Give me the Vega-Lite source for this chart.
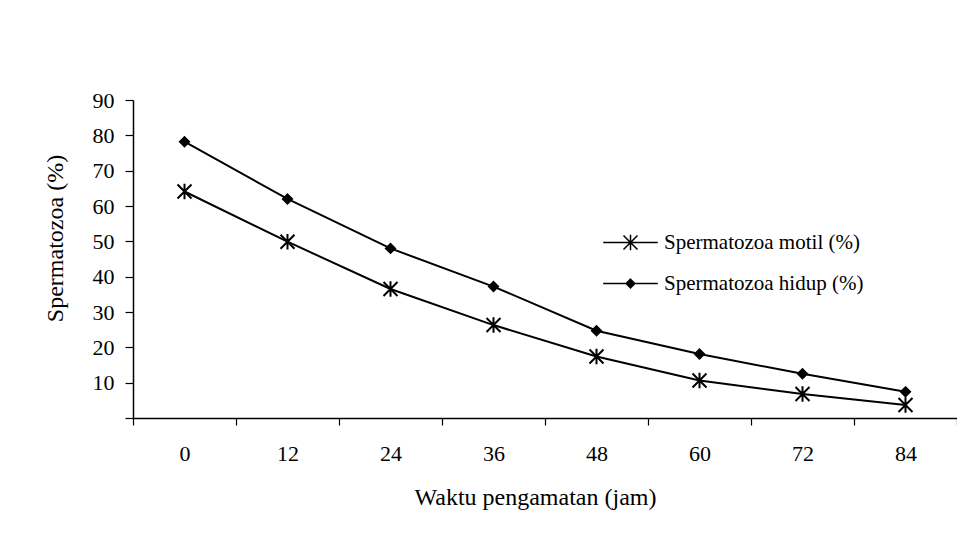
{
  "$schema": "https://vega.github.io/schema/vega-lite/v6.json",
  "width": 824,
  "height": 318,
  "autosize": {"type": "none"},
  "padding": {"left": 133, "top": 100, "right": 0, "bottom": 123},
  "background": "white",
  "config": {
    "view": {"stroke": null},
    "font": "Liberation Serif",
    "axis": {"labelFont": "Liberation Serif", "titleFont": "Liberation Serif", "labelColor": "black", "titleColor": "black", "domainColor": "black", "tickColor": "black", "titleFontWeight": "normal", "grid": false}
  },
  "data": {
    "values": [
      {"t": 0, "series": "Spermatozoa motil (%)", "v": 64.1},
      {"t": 12, "series": "Spermatozoa motil (%)", "v": 49.9},
      {"t": 24, "series": "Spermatozoa motil (%)", "v": 36.5},
      {"t": 36, "series": "Spermatozoa motil (%)", "v": 26.3},
      {"t": 48, "series": "Spermatozoa motil (%)", "v": 17.4},
      {"t": 60, "series": "Spermatozoa motil (%)", "v": 10.6},
      {"t": 72, "series": "Spermatozoa motil (%)", "v": 6.8},
      {"t": 84, "series": "Spermatozoa motil (%)", "v": 3.7},
      {"t": 0, "series": "Spermatozoa  hidup (%)", "v": 78.2},
      {"t": 12, "series": "Spermatozoa  hidup (%)", "v": 62.0},
      {"t": 24, "series": "Spermatozoa  hidup (%)", "v": 48.0},
      {"t": 36, "series": "Spermatozoa  hidup (%)", "v": 37.2},
      {"t": 48, "series": "Spermatozoa  hidup (%)", "v": 24.7},
      {"t": 60, "series": "Spermatozoa  hidup (%)", "v": 18.1},
      {"t": 72, "series": "Spermatozoa  hidup (%)", "v": 12.5},
      {"t": 84, "series": "Spermatozoa  hidup (%)", "v": 7.4}
    ]
  },
  "encoding": {
    "x": {
      "field": "t", "type": "ordinal",
      "scale": {"paddingInner": 0, "paddingOuter": 0},
      "axis": {
        "title": "Waktu pengamatan (jam)", "labelAngle": 0, "tickBand": "extent",
        "tickSize": 7, "labelFontSize": 22, "labelPadding": 18, "domainWidth": 1.5, "tickWidth": 1.2,
        "titleFontSize": 24, "titleX": 402, "titleY": 79, "titleBaseline": "middle", "titleAnchor": "start", "titleAlign": "center"
      }
    },
    "y": {
      "field": "v", "type": "quantitative",
      "scale": {"domain": [0, 90], "nice": false},
      "axis": {
        "title": "Spermatozoa (%)", "values": [0, 10, 20, 30, 40, 50, 60, 70, 80, 90],
        "labelExpr": "datum.value == 0 ? '' : datum.label",
        "tickSize": 8, "labelFontSize": 22, "labelPadding": 11, "domainWidth": 1.5, "tickWidth": 1.2,
        "titleFontSize": 24, "titleX": -78, "titleY": 138, "titleAngle": -90, "titleBaseline": "middle", "titleAlign": "center", "titleAnchor": "start"
      }
    }
  },
  "layer": [
    {
      "mark": {"type": "line", "color": "black", "strokeWidth": 2},
      "encoding": {"detail": {"field": "series"}}
    },
    {
      "mark": {"type": "point", "filled": true, "fill": "black", "stroke": "black", "strokeWidth": 2, "opacity": 1, "size": 196},
      "encoding": {
        "shape": {
          "field": "series", "type": "nominal",
          "scale": {"domain": ["Spermatozoa motil (%)", "Spermatozoa  hidup (%)"], "range": ["M-1,-1L1,1M-1,1L1,-1M0,-1.1L0,1.1", "M0,-0.65L0.65,0L0,0.65L-0.65,0Z"]},
          "legend": null
        }
      }
    },
    {
      "transform": [{"filter": "datum.v < -1"}],
      "mark": {"type": "point", "filled": false, "color": "black", "strokeWidth": 1.5, "size": 196},
      "encoding": {
        "shape": {
          "field": "series", "type": "nominal",
          "scale": {"domain": ["Spermatozoa motil (%)", "Spermatozoa  hidup (%)"], "range": ["M-3.9,0L3.9,0M-1,-1L1,1M-1,1L1,-1M0,-1.1L0,1.1", "M-3.9,0L3.9,0M0,-0.62L0.62,0L0,0.62L-0.62,0ZM0,-0.42L0.42,0L0,0.42L-0.42,0ZM0,-0.22L0.22,0L0,0.22L-0.22,0ZM0,-0.6L0,0.6"]},
          "legend": {
            "title": null, "orient": "none", "legendX": 487, "legendY": 132,
            "symbolOpacity": 1, "symbolStrokeColor": "black", "symbolStrokeWidth": 1.5, "symbolSize": 196,
            "labelFont": "Liberation Serif", "labelFontSize": 21, "labelColor": "black", "labelOffset": 23, "rowPadding": 18, "labelLimit": 400
          }
        }
      }
    }
  ],
  "resolve": {"scale": {"shape": "independent"}, "legend": {"shape": "independent"}}
}
